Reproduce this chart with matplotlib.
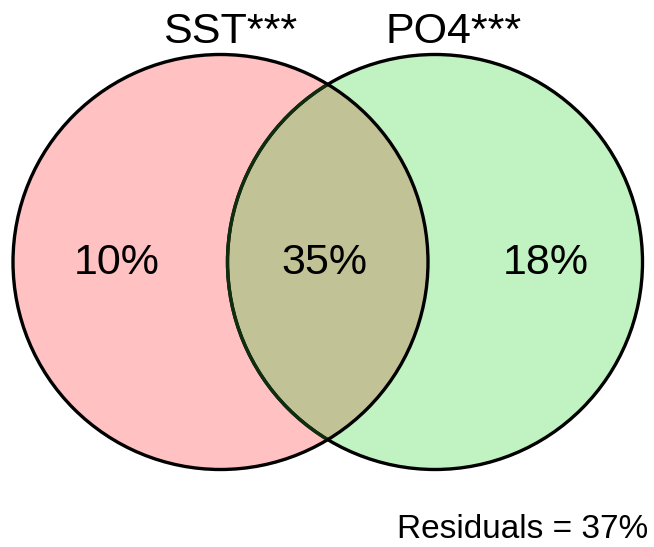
import matplotlib.pyplot as plt
from matplotlib.patches import Circle

# variance partitioning shares (%)
set_names = ["SST***", "PO4***"]
part_values = [10, 35, 18]      # SST only, shared, PO4 only
residual = 37

fig = plt.figure(figsize=(6.54, 5.47), dpi=100)
ax = fig.add_axes([0, 0, 1, 1])
ax.set_xlim(0, 654)
ax.set_ylim(547, 0)
ax.set_aspect("equal")
ax.axis("off")

r = 207.5
cy = 262
cl, cr = 220.5, 435

left = Circle((cl, cy), r, facecolor="#ffc1c1", edgecolor="none", zorder=1)
right = Circle((cr, cy), r, facecolor="#c1f2c1", edgecolor="none", zorder=1)
ax.add_patch(left)
ax.add_patch(right)

# overlap region
mid = Circle((cr, cy), r, facecolor="#c1c396", edgecolor="none", zorder=2)
ax.add_patch(mid)
mid.set_clip_path(left)

# outlines
ax.add_patch(Circle((cl, cy), r, fill=False, edgecolor="black", lw=2.4, zorder=3))
ax.add_patch(Circle((cr, cy), r, fill=False, edgecolor="black", lw=2.4, zorder=3))
inner = Circle((cr, cy), r, fill=False, edgecolor="#0e2e0e", lw=2.4, zorder=4)
ax.add_patch(inner)
clipc = Circle((cl, cy), r - 1.5, transform=ax.transData)
inner.set_clip_path(clipc)

fs = 31
ax.text(117, 263, f"{part_values[0]}%", fontsize=fs, ha="center", va="center",
        family="Liberation Sans", zorder=5)
ax.text(324, 263, f"{part_values[1]}%", fontsize=fs, ha="center", va="center",
        family="Liberation Sans", zorder=5)
ax.text(546, 263, f"{part_values[2]}%", fontsize=fs, ha="center", va="center",
        family="Liberation Sans", zorder=5)

ax.text(230, 32, set_names[0], fontsize=fs, ha="center", va="center",
        family="Liberation Sans")
ax.text(454, 32, set_names[1], fontsize=fs, ha="center", va="center",
        family="Liberation Sans")

ax.text(648, 529, f"Residuals = {residual}%", fontsize=24, ha="right",
        va="center", family="Liberation Sans")

fig.savefig("out.png", dpi=100)
